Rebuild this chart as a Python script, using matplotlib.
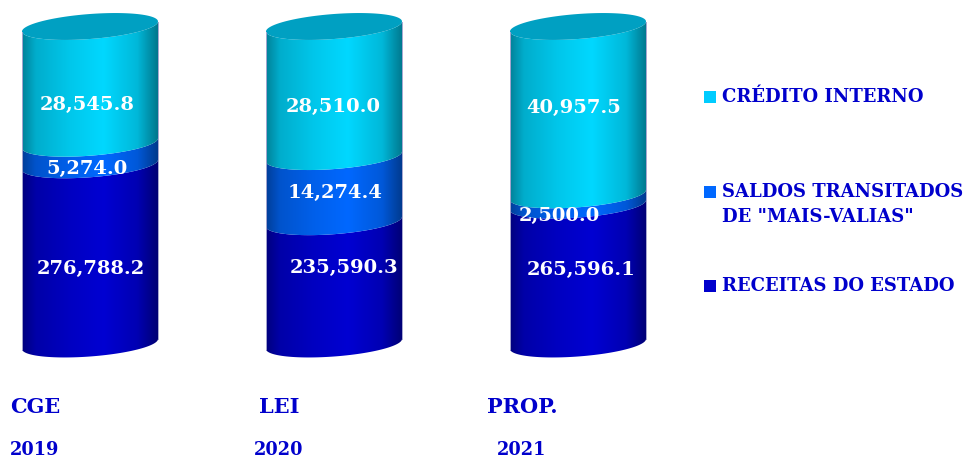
#!/usr/bin/env python
import numpy as np
import matplotlib
matplotlib.use('Agg')
import matplotlib.pyplot as plt
from matplotlib.colors import LinearSegmentedColormap
from matplotlib.patches import Polygon, Rectangle

# Data, bottom segment first
doc_names = ['CGE', 'LEI', 'PROP.']
years = ['2019', '2020', '2021']
receitas = [276788.2, 235590.3, 265596.1]
saldos = [5274.0, 14274.4, 2500.0]
credito = [28545.8, 28510.0, 40957.5]
series_names = ['RECEITAS DO ESTADO', 'SALDOS TRANSITADOS\nDE "MAIS-VALIAS"', 'CRÉDITO INTERNO']

W, H = 977, 461
BASE = 75.0          # the value axis of the original is cut at 75 %
Y_BASE, Y_TOP = 344.0, 26.5   # pixel rows of 75 % and 100 %
X0, X_STEP = 90.0, 244.0      # pixel column of the first cylinder, spacing
HALF_W, ELL_B, ELL_TILT = 68.0, 12.5, 5.0

px_per_pct = (Y_BASE - Y_TOP) / (100 - BASE)

fig = plt.figure(figsize=(W / 100, H / 100), dpi=100)
ax = fig.add_axes([0, 0, 1, 1])
ax.axis('off')
xlim = (-X0 / X_STEP, (W - X0) / X_STEP)
ylim = (BASE - (H - Y_BASE) / px_per_pct, BASE + Y_BASE / px_per_pct)

FONT = 'DejaVu Serif'
BLUE = '#0000cc'
face_stops = [0.0, 0.1, 0.35, 0.6, 0.85, 1.0]
face_shade = [0.6, 0.8, 0.92, 1.0, 0.85, 0.55]
colors = ['#0000d2', '#0068ff', '#00d8ff']
cap_color = '#00a0c2'


def face_cmap(color):
    rgb = np.array(matplotlib.colors.to_rgb(color))
    return LinearSegmentedColormap.from_list(
        'face', [(s, tuple(rgb * k)) for s, k in zip(face_stops, face_shade)])


def arc(cat, level, t):
    # ellipse points at a height given in percent, tilted up on the right
    x = cat + HALF_W * np.cos(t) / X_STEP
    y = level + (ELL_TILT * np.cos(t) - ELL_B * np.sin(t)) / px_per_pct
    return x, y


grad = np.linspace(0, 1, 256).reshape(1, -1)
t_front = np.linspace(0, np.pi, 60)
t_all = np.linspace(0, 2 * np.pi, 120)

# label nudges in pixels from the middle of each segment, bottom segment first
nudges = [[(1, -15), (-3, -15), (-3, -20)],
          [(10, 15), (1, -4), (-1, -15)],
          [(3, 5), (-19, -16), (-4, 3)]]

data = np.array([receitas, saldos, credito])
for cat in range(3):
    pct = data[:, cat] / data[:, cat].sum() * 100
    tops = np.cumsum(pct)
    for i in range(3):
        low = tops[i - 1] if i else BASE
        high = tops[i]
        xa, ya = arc(cat, high, t_front)
        xb, yb = arc(cat, low, t_front[::-1])
        poly = Polygon(np.column_stack([np.r_[xa, xb], np.r_[ya, yb]]),
                       closed=True, fc='none', ec='none')
        ax.add_patch(poly)
        im = ax.imshow(grad, cmap=face_cmap(colors[i]), aspect='auto',
                       extent=(cat - HALF_W / X_STEP, cat + HALF_W / X_STEP, ylim[0], ylim[1]),
                       interpolation='bilinear', zorder=2)
        im.set_clip_path(poly)

        mid = (low + high) / 2
        dx, dy = nudges[cat][i]
        ax.annotate(f'{data[i, cat]:,.1f}', (cat, mid), xytext=(dx, dy),
                    textcoords='offset pixels', ha='center', va='center',
                    color='white', fontsize=14, fontweight='bold', family=FONT, zorder=5)

    # top cap
    xc, yc = arc(cat, 100, t_all)
    ax.fill(xc, yc, color=cap_color, lw=0, zorder=3)

    # thin pale edge lines of the body
    for t_edge in (0, np.pi):
        xe0, ye0 = arc(cat, BASE, t_edge)
        xe1, ye1 = arc(cat, 100, t_edge)
        ax.plot([xe0, xe1], [ye0, ye1], color='#a6a6d0', lw=0.7, zorder=4)

ax.set_xlim(xlim)
ax.set_ylim(ylim)

# category labels under the cylinders
label_x = [35, 279, 522]
for name, year, x in zip(doc_names, years, label_x):
    fig.text(x / W, 1 - 407 / H, name, color=BLUE, fontsize=15, fontweight='bold',
             family=FONT, ha='center', va='center')
    fig.text(x / W, 1 - 450 / H, year, color=BLUE, fontsize=12.8, fontweight='bold',
             family=FONT, ha='center', va='center')

# legend
legend_y = [286, 192, 97]
legend_text_y = [286, 204.5, 97]
legend_colors = ['#0000cc', '#0068ff', '#00ccff']
for name, y, ty, c in zip(series_names, legend_y, legend_text_y, legend_colors):
    fig.add_artist(Rectangle((704 / W, 1 - (y + 6) / H), 12 / W, 12 / H, color=c,
                             transform=fig.transFigure, lw=0))
    fig.text(722 / W, 1 - ty / H, name, color=BLUE, fontsize=13, fontweight='bold',
             family=FONT, ha='left', va='center', linespacing=1.5)

fig.savefig('out.png', dpi=100)
